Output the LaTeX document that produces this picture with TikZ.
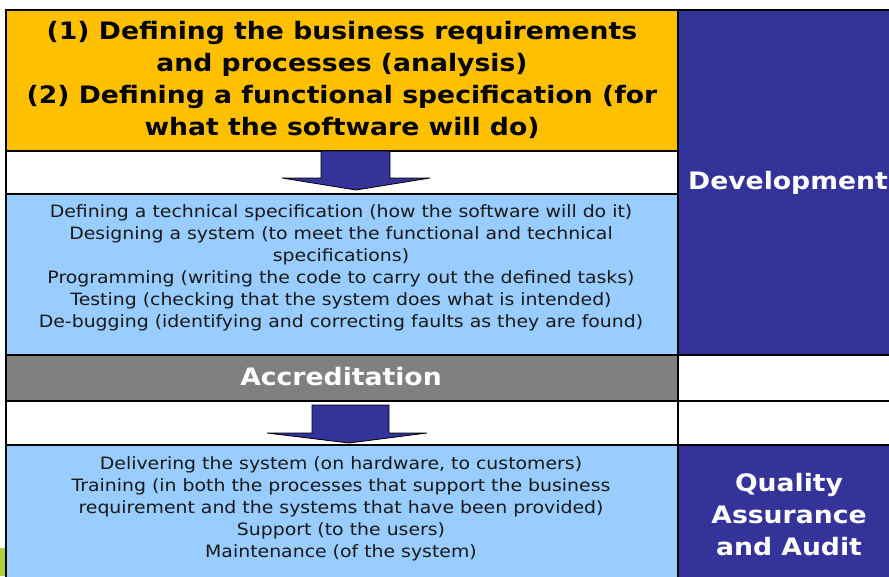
\documentclass[tikz,border=0pt]{standalone}
\usepackage{fontspec}
\setmainfont{DejaVu Sans}[FakeStretch=1.11]
\usepackage{xcolor}
\usepackage{tikz}
\definecolor{stageyellow}{HTML}{FFC000}
\definecolor{stageblue}{HTML}{99CCFF}
\definecolor{sidenavy}{HTML}{333399}
\definecolor{accgray}{HTML}{808080}
\definecolor{slidegreen}{HTML}{A8D040}

\begin{document}
\begin{tikzpicture}[x=1pt, y=-1pt,
        cell/.style={draw, line width=1.5pt},
        head/.style={font=\bfseries\fontsize{24}{32}\selectfont, align=center},
        body/.style={font=\fontsize{17}{22}\selectfont, align=center, text=black!90},
        side/.style={font=\bfseries\fontsize{24}{32}\selectfont, align=center, text=white},
        blockarrow/.style={fill=sidenavy, draw=black, line width=0.8pt}]
        \useasboundingbox (0, 0) rectangle (889, 576);
        \fill[slidegreen] (0, 548) rectangle (6, 576);
        \filldraw[cell, fill=stageyellow] (6, 10) rectangle (678, 151);
        \filldraw[cell, fill=white] (6, 151) rectangle (678, 194);
        \filldraw[cell, fill=stageblue] (6, 194) rectangle (678, 355);
        \filldraw[cell, fill=accgray] (6, 355) rectangle (678, 401);
        \filldraw[cell, fill=white] (6, 401) rectangle (678, 445);
        \filldraw[cell, fill=stageblue] (6, 445) rectangle (678, 580);
        \filldraw[cell, fill=sidenavy] (678, 10) rectangle (895, 355);
        \filldraw[cell, fill=white] (678, 355) rectangle (895, 401);
        \filldraw[cell, fill=white] (678, 401) rectangle (895, 445);
        \filldraw[cell, fill=sidenavy] (678, 445) rectangle (895, 580);
        \node[head] at (342, 80) (req) {(1) Defining the business requirements\\and processes (analysis)\\(2) Defining a functional specification (for\\what the software will do)};
        \node[body] at (341, 268) (build) {Defining a technical specification (how the software will do it)\\Designing a system (to meet the functional and technical\\specifications)\\Programming (writing the code to carry out the defined tasks)\\Testing (checking that the system does what is intended)\\De-bugging (identifying and correcting faults as they are found)};
        \node[side] at (341, 377) (accr) {Accreditation};
        \node[body] at (341, 509) (deliver) {Delivering the system (on hardware, to customers)\\Training (in both the processes that support the business\\requirement and the systems that have been provided)\\Support (to the users)\\Maintenance (of the system)};
        \node[side] at (788, 183) (dev) {Development};
        \node[side] at (789, 515) (qa) {Quality\\Assurance\\and Audit};
        \filldraw[blockarrow] (321, 151) -- (390, 151) -- (390, 178) -- (430, 178) -- (356, 190) -- (282, 178) -- (321, 178) -- cycle;
        \filldraw[blockarrow] (312, 405) -- (389, 405) -- (389, 433) -- (427, 433) -- (349, 443) -- (267, 433) -- (312, 433) -- cycle;
    \end{tikzpicture}
\end{document}
